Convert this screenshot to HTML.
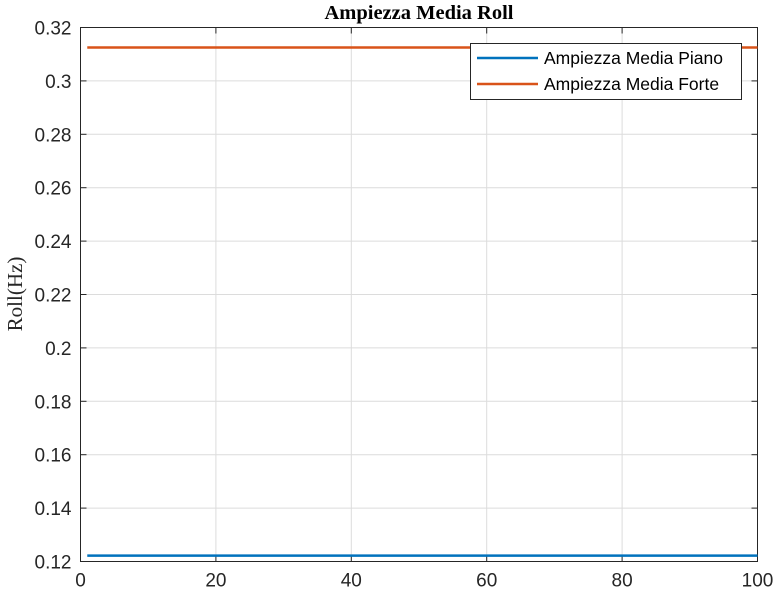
<!DOCTYPE html>
<html><head><meta charset="utf-8"><style>
body{margin:0;background:#fff;}
svg{display:block;font-family:"Liberation Sans",sans-serif;}
</style></head><body>
<svg id="c" width="778" height="595"></svg>
<script>
const xTicks=[0,20,40,60,80,100];
const yTicks=[0.12,0.14,0.16,0.18,0.2,0.22,0.24,0.26,0.28,0.3,0.32];
const seriesNames=["Ampiezza Media Piano","Ampiezza Media Forte"];
const xs=[1,100];
const piano=[0.1222,0.1222];
const forte=[0.3125,0.3125];
const colors=["#0072BD","#D95319"];
const L=80.5,R=757.5,T=27.5,B=561.5;
const sx=v=>L+(v-0)/(100-0)*(R-L);
const sy=v=>B-(v-0.12)/(0.32-0.12)*(B-T);
const svg=document.getElementById('c');
const NS="http://www.w3.org/2000/svg";
function mk(tag,attrs,parent){const e=document.createElementNS(NS,tag);for(const k in attrs)e.setAttribute(k,attrs[k]);(parent||svg).appendChild(e);return e;}
mk('rect',{x:L,y:T,width:R-L,height:B-T,fill:'#fff'});
const grid=mk('g',{});


xTicks.forEach(t=>{mk('line',{x1:sx(t),x2:sx(t),y1:T,y2:B,stroke:'#dcdcdc','stroke-width':1},grid);});
yTicks.forEach(t=>{mk('line',{x1:L,x2:R,y1:sy(t),y2:sy(t),stroke:'#dcdcdc','stroke-width':1},grid);});
const xa=mk('g',{});


xTicks.forEach(t=>{
 mk('line',{x1:sx(t),x2:sx(t),y1:B,y2:B-6,stroke:'#262626'},xa);
 mk('line',{x1:sx(t),x2:sx(t),y1:T,y2:T+6,stroke:'#262626'},xa);
 const tx=mk('text',{x:sx(t),y:B+25,'text-anchor':'middle','font-size':'19',fill:'#262626'},xa);tx.textContent=t;
});
const ya=mk('g',{});


yTicks.forEach(t=>{
 mk('line',{x1:L,x2:L+6,y1:sy(t),y2:sy(t),stroke:'#262626'},ya);
 mk('line',{x1:R,x2:R-6,y1:sy(t),y2:sy(t),stroke:'#262626'},ya);
 const tx=mk('text',{x:L-9,y:sy(t)+7,'text-anchor':'end','font-size':'19',fill:'#262626'},ya);tx.textContent=String(+t.toFixed(2));
});
mk('rect',{x:L,y:T,width:R-L,height:B-T,fill:'none',stroke:'#262626','stroke-width':1});
[piano,forte].forEach((s,i)=>{
 const p=mk('polyline',{points:xs.map((x,j)=>sx(x)+','+sy(s[j])).join(' '),fill:'none',stroke:colors[i],'stroke-width':2.5});
 
 
});
const title=mk('text',{x:419,y:19,'text-anchor':'middle','font-size':'20.5','font-weight':'bold','font-family':'Liberation Serif, serif',fill:'#000'});
title.textContent='Ampiezza Media Roll';


const yl=mk('text',{x:0,y:0,transform:'translate(22,294) rotate(-90)','text-anchor':'middle','font-size':'21','font-family':'Liberation Serif, serif',fill:'#262626'});
yl.textContent='Roll(Hz)';


const lg=mk('g',{});


mk('rect',{x:470.5,y:43.5,width:271,height:56,fill:'#fff',stroke:'#262626'},lg);
seriesNames.forEach((n,i)=>{
 const y=58+i*26;
 const e=mk('g',{},lg);
 
 
 mk('line',{x1:477,x2:538,y1:y,y2:y,stroke:colors[i],'stroke-width':2.5},e);
 const t=mk('text',{x:544,y:y+6,'font-size':'17.5',fill:'#000'},e);t.textContent=n;
});
</script>
</body></html>
